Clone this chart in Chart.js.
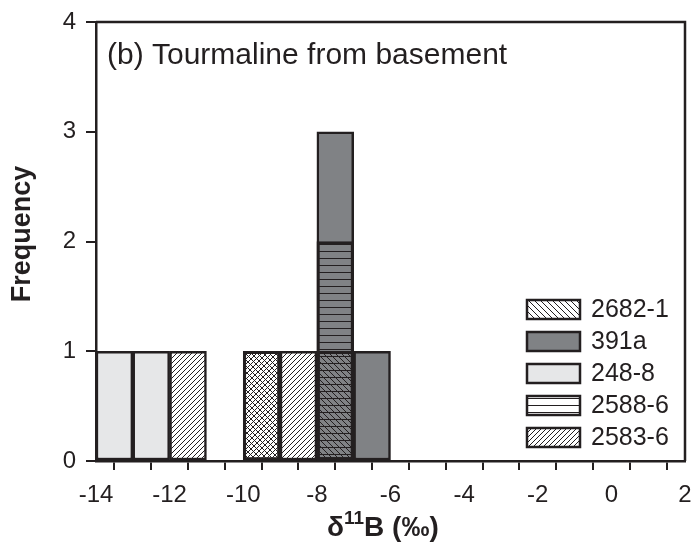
<!DOCTYPE html>
<html>
<head>
<meta charset="utf-8">
<script src="https://cdn.jsdelivr.net/npm/chart.js@4"></script>
<style>
  html, body { margin: 0; padding: 0; background: #fff; }
  #wrap { width: 696px; height: 555px; }
</style>
</head>
<body>
<div id="wrap"><canvas id="graph" width="696" height="555"></canvas></div>
<script>
// bins are 1 per mil wide, left edges listed here
const binLeft = [-14, -13, -12, -11, -10, -9, -8, -7];
const seriesNames = ['2682-1', '391a', '248-8', '2588-6', '2583-6'];
const count2682 = [0, 0, 0, 0, 1, 0, 1, 0];
const count391a = [0, 0, 0, 0, 0, 0, 3, 1];
const count2488 = [1, 1, 0, 0, 0, 0, 0, 0];
const count2588 = [0, 0, 0, 0, 0, 0, 2, 0];
const count2583 = [0, 0, 1, 0, 1, 1, 0, 0];
const xTicks = [-14, -12, -10, -8, -6, -4, -2, 0, 2];
const yTicks = [0, 1, 2, 3, 4];

const ink = '#231f20';
const font = "'Liberation Sans', Arial, sans-serif";

function hatch(dir, size, bg) {
  const c = document.createElement('canvas');
  c.width = size; c.height = size;
  const g = c.getContext('2d');
  if (bg) { g.fillStyle = bg; g.fillRect(0, 0, size, size); }
  g.strokeStyle = ink;
  g.lineWidth = 1;
  g.beginPath();
  if (dir === 'h') {
    g.moveTo(0, size - 0.5); g.lineTo(size, size - 0.5);
  } else if (dir === '/') {
    g.moveTo(0, size); g.lineTo(size, 0);
    g.moveTo(-1, 1); g.lineTo(1, -1);
    g.moveTo(size - 1, size + 1); g.lineTo(size + 1, size - 1);
  } else {
    g.moveTo(0, 0); g.lineTo(size, size);
    g.moveTo(-1, size - 1); g.lineTo(1, size + 1);
    g.moveTo(size - 1, -1); g.lineTo(size + 1, 1);
  }
  g.stroke();
  return g.createPattern(c, 'repeat');
}

function points(counts) {
  const out = [];
  counts.forEach((v, i) => { if (v > 0) out.push({x: binLeft[i] + 0.5, y: v}); });
  return out;
}

const fills = [
  hatch('\\', 6, null),
  '#808285',
  '#e6e7e8',
  hatch('h', 7, null),
  hatch('/', 5, '#ffffff')
];
const legendFills = [
  hatch('\\', 6, '#ffffff'),
  '#808285',
  '#e6e7e8',
  hatch('h', 7, '#ffffff'),
  hatch('/', 5, '#ffffff')
];
const allCounts = [count2682, count391a, count2488, count2588, count2583];
// draw order: higher order is painted first
const drawOrder = [1, 5, 4, 2, 3];

const datasets = seriesNames.map((name, i) => ({
  label: name,
  data: points(allCounts[i]),
  backgroundColor: fills[i],
  borderColor: ink,
  borderWidth: 2.5,
  borderSkipped: false,
  order: drawOrder[i]
}));

const framePlugin = {
  id: 'frame',
  afterDatasetsDraw(chart) {
    const {ctx, chartArea: a} = chart;
    ctx.save();
    ctx.strokeStyle = ink;
    ctx.lineWidth = 2.5;
    ctx.beginPath();
    ctx.moveTo(a.left, a.top);
    ctx.lineTo(a.right, a.top);
    ctx.lineTo(a.right, a.bottom);
    ctx.stroke();
    ctx.restore();
  },
  afterDraw(chart) {
    const ctx = chart.ctx;
    ctx.save();
    ctx.fillStyle = ink;
    ctx.textBaseline = 'alphabetic';
    ctx.font = '30px ' + font;
    ctx.fillText('(b) Tourmaline from basement', 107, 64);

    // legend box
    ctx.font = '25px ' + font;
    ctx.textBaseline = 'middle';
    seriesNames.forEach((name, i) => {
      const y = 300 + i * 32;
      ctx.fillStyle = legendFills[i];
      ctx.fillRect(527, y, 53, 19);
      ctx.strokeStyle = ink;
      ctx.lineWidth = 2.5;
      ctx.strokeRect(527, y, 53, 19);
      ctx.fillStyle = ink;
      ctx.fillText(name, 591, y + 10);
    });

    // x axis title with superscript
    ctx.textBaseline = 'alphabetic';
    const big = 'bold 28px ' + font, small = 'bold 19px ' + font;
    const parts = [['δ', big, 0], ['11', small, -12], ['B (‰)', big, 0]];
    let x = 327;
    parts.forEach(p => {
      ctx.font = p[1];
      ctx.fillText(p[0], x, 536 + p[2]);
      x += ctx.measureText(p[0]).width;
    });

    // y axis title
    ctx.translate(30, 234);
    ctx.rotate(-Math.PI / 2);
    ctx.font = 'bold 27px ' + font;
    ctx.textAlign = 'center';
    ctx.fillText('Frequency', 0, 0);
    ctx.restore();
  }
};

new Chart(document.getElementById('graph'), {
  type: 'bar',
  data: { datasets: datasets },
  options: {
    responsive: false,
    animation: false,
    layout: { padding: { top: 22, right: 11, left: 0, bottom: 0 } },
    datasets: { bar: { grouped: false, barPercentage: 1, categoryPercentage: 1 } },
    plugins: { legend: { display: false }, tooltip: { enabled: false } },
    scales: {
      x: {
        type: 'linear',
        min: -14, max: 2,
        offset: false,
        afterFit(s) { s.height = 94; s.paddingLeft = 0; s.paddingRight = 0; },
        ticks: {
          stepSize: 1,
          autoSkip: false,
          maxRotation: 0,
          color: ink,
          padding: 11,
          font: { family: font, size: 24 },
          callback: v => xTicks.includes(v) ? String(v) : ''
        },
        grid: { drawOnChartArea: false, drawTicks: true, tickLength: 9, color: ink, lineWidth: 2 },
        border: { display: true, color: ink, width: 2.5 },
        title: { display: false }
      },
      y: {
        min: 0, max: 4,
        afterFit(s) { s.width = 96; s.paddingTop = 0; s.paddingBottom = 0; },
        ticks: {
          stepSize: 1,
          color: ink,
          padding: 10,
          font: { family: font, size: 24 },
          callback: v => yTicks.includes(v) ? String(v) : ''
        },
        grid: { drawOnChartArea: false, drawTicks: true, tickLength: 10, color: ink, lineWidth: 2 },
        border: { display: true, color: ink, width: 2.5 },
        title: { display: false }
      }
    }
  },
  plugins: [framePlugin]
});
</script>
</body>
</html>
